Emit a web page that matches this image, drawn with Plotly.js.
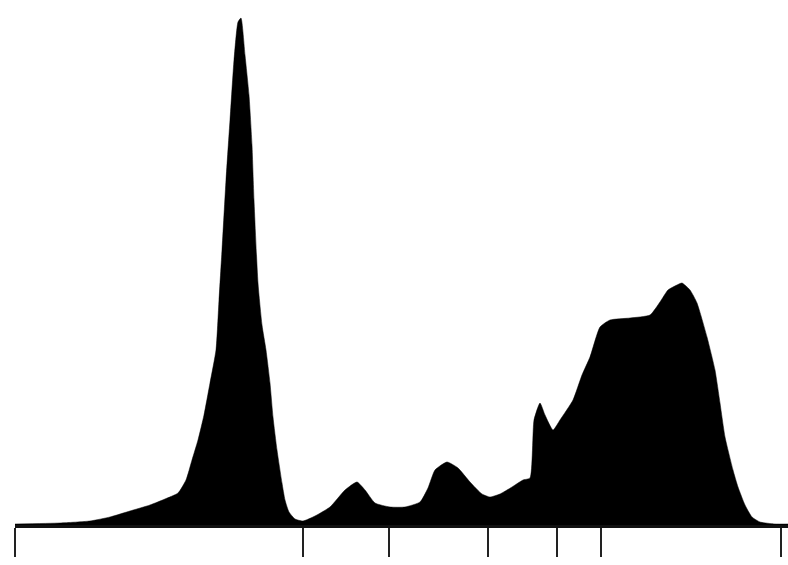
<!DOCTYPE html>
<html>
<head>
<meta charset="utf-8">
<script src="https://cdn.plot.ly/plotly-3.0.1.min.js"></script>
<style>
html,body{margin:0;padding:0;background:#fff;}
#chart{width:788px;height:565px;}
</style>
</head>
<body>
<div id="chart"></div>
<script>
// Position along the axis (arbitrary units) and height of the distribution (arbitrary units)
const positions = [15,60,90,110,130,150,165,178,186,192,198,204,210,216,219,222,226,230,234,238,241,245,249,252,254,258,262,266,270,273,277,282,285,289,295,303,315,330,345,357,365,375,390,405,420,428,435,447,458,470,482,490,500,512,523,530,534,540,545,553,560,573,582,590,600,610,630,650,660,668,677,682,690,697,707,715,720,725,733,738,745,752,760,775,788];
const heights = [1,2,4,8,14,20,26,32,45,65,85,110,142,175,225,275,345,405,465,503,507,470,430,380,325,242,200,175,142,108,75,42,25,13,6,4,9,18,35,43,35,22,18,18,23,37,55,63,57,43,31,28,31,38,45,47,105,122,110,95,105,125,150,168,198,205,207,210,223,235,240,242,235,222,188,155,122,88,55,38,20,8,3,1,1];
const tickPositions = [15,303,389,488,557,601,781];

const trace = {
  x: positions,
  y: heights,
  type: 'scatter',
  mode: 'lines',
  fill: 'tozeroy',
  fillcolor: '#000000',
  line: {color: '#000000', width: 0.5, shape: 'spline', smoothing: 0.5},
  hoverinfo: 'skip'
};

const layout = {
  width: 788,
  height: 565,
  margin: {l: 15, r: 0, t: 0, b: 40, pad: 0},
  paper_bgcolor: '#ffffff',
  plot_bgcolor: '#ffffff',
  showlegend: false,
  xaxis: {
    range: [15, 788],
    showgrid: false,
    zeroline: false,
    showline: true,
    linecolor: '#111111',
    linewidth: 3,
    ticks: 'outside',
    ticklen: 29,
    tickwidth: 2,
    tickcolor: '#222222',
    tickmode: 'array',
    tickvals: tickPositions,
    showticklabels: false,
    fixedrange: true
  },
  yaxis: {
    range: [0, 525],
    visible: false,
    showgrid: false,
    zeroline: false,
    fixedrange: true
  }
};

Plotly.newPlot('chart', [trace], layout, {displayModeBar: false, staticPlot: true});
</script>
</body>
</html>
